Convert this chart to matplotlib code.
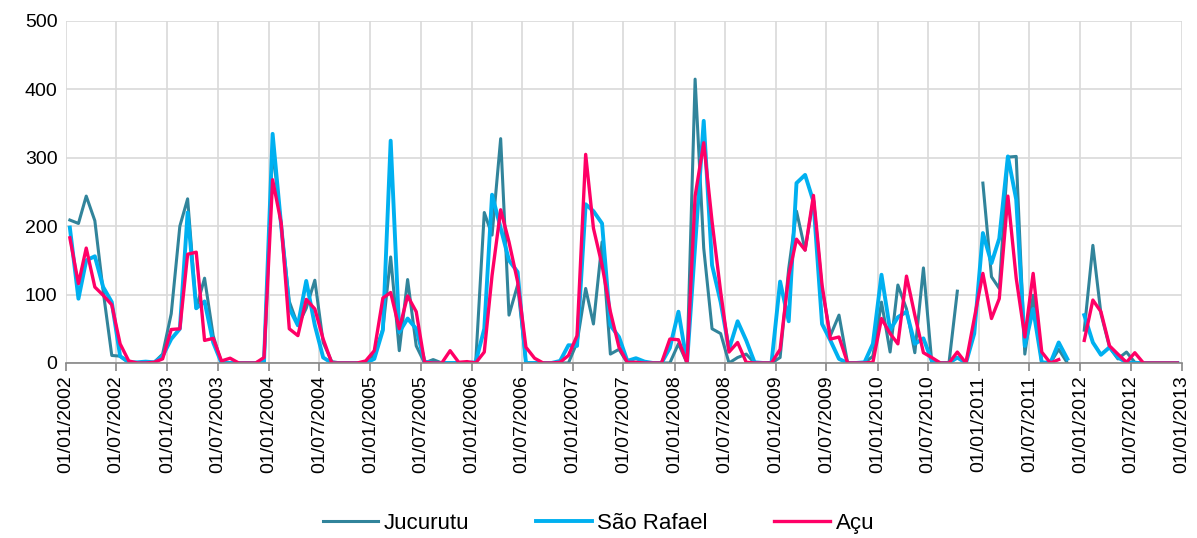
import numpy as np
import pandas as pd
import matplotlib
matplotlib.use("Agg")
import matplotlib.pyplot as plt
import matplotlib.dates as mdates

plt.rcParams['font.family'] = ['Liberation Sans', 'DejaVu Sans']

nan = np.nan

# monthly values, Jan 2002 .. Dec 2012
jucurutu = [209, 204, 244, 208, 105, 11, 10, 1, 0, 0, 1, 13,
            72, 200, 240, 80, 124, 40, 0, 0, 0, 0, 0, 0,
            315, 200, 90, 55, 80, 121, 30, 2, 0, 0, 0, 0,
            12, 50, 155, 18, 122, 25, 0, 5, 0, 0, 0, 0,
            0, 220, 187, 328, 70, 114, 0, 0, 0, 0, 0, 0,
            30, 109, 57, 177, 13, 20, 0, 0, 0, 0, 0, 0,
            28, 0, 415, 168, 50, 43, 0, 8, 13, 0, 0, 0,
            8, 138, 222, 165, 240, 109, 40, 70, 0, 0, 0, 10,
            89, 16, 114, 79, 15, 139, 1, 0, 0, 105, nan, nan,
            263, 126, 109, 301, 302, 13, 99, 0, 0, 20, 0, nan,
            48, 172, 72, 23, 6, 16, 1, 0, 0, 0, 0, 0]

sao_rafael = [198, 94, 150, 156, 111, 89, 10, 1, 1, 2, 1, 10,
              35, 50, 220, 80, 90, 30, 0, 0, 0, 0, 0, 2,
              335, 200, 80, 55, 120, 55, 8, 0, 0, 0, 0, 0,
              6, 48, 325, 45, 65, 50, 2, 0, 0, 0, 0, 0,
              1, 50, 246, 197, 150, 133, 0, 0, 0, 0, 3, 26,
              25, 232, 222, 204, 55, 38, 3, 7, 2, 0, 0, 22,
              75, 0, 170, 354, 143, 89, 20, 61, 33, 1, 0, 0,
              119, 61, 263, 275, 236, 57, 33, 6, 0, 0, 1, 28,
              129, 48, 67, 75, 28, 36, 3, 0, 0, 8, 0, 43,
              190, 146, 182, 302, 239, 25, 79, 1, 0, 30, 6, nan,
              70, 30, 12, 23, 8, 1, 0, 0, 0, 0, 0, 0]

acu = [183, 116, 168, 111, 99, 85, 28, 3, 0, 0, 1, 6,
       49, 50, 159, 162, 33, 36, 3, 7, 0, 0, 0, 8,
       268, 204, 50, 40, 93, 79, 35, 0, 0, 0, 0, 3,
       18, 95, 103, 50, 98, 75, 1, 0, 0, 18, 1, 2,
       0, 16, 128, 224, 177, 119, 23, 7, 0, 0, 1, 11,
       40, 305, 197, 143, 75, 23, 1, 1, 0, 0, 0, 35,
       34, 0, 244, 322, 207, 104, 16, 30, 1, 0, 0, 0,
       20, 128, 181, 165, 245, 114, 35, 38, 0, 0, 0, 1,
       65, 43, 28, 127, 70, 15, 8, 0, 0, 16, 0, 65,
       131, 65, 94, 244, 124, 38, 131, 16, 0, 5, nan, nan,
       33, 92, 75, 25, 13, 1, 15, 0, 0, 0, 0, 0]

dates = pd.date_range("2002-01-01", periods=132, freq="MS") + pd.Timedelta(days=14)

fig = plt.figure(figsize=(11.97, 5.38), dpi=100)
ax = fig.add_axes([0.0551, 0.3253, 0.9324, 0.6357])

ax.plot(dates, jucurutu, color="#31849B", lw=2.2, label="Jucurutu")
ax.plot(dates, sao_rafael, color="#00B0F0", lw=2.8, label="São Rafael")
ax.plot(dates, acu, color="#FF0066", lw=2.4, label="Açu")

ax.set_xlim(pd.Timestamp("2002-01-01"), pd.Timestamp("2013-01-01"))
ax.set_ylim(0, 500)
ax.set_yticks(range(0, 501, 100))

ax.xaxis.set_major_locator(mdates.MonthLocator(bymonth=[1, 7], bymonthday=1))
ax.xaxis.set_major_formatter(mdates.DateFormatter("%d/%m/%Y"))
plt.setp(ax.get_xticklabels(), rotation=90)

ax.grid(True, color="#D9D9D9", lw=1.2)
ax.set_axisbelow(True)
for s in ["top", "right", "left"]:
    ax.spines[s].set_visible(False)
ax.spines["bottom"].set_color("#868686")
ax.spines["bottom"].set_linewidth(1.2)
ax.tick_params(axis="x", colors="#868686", length=6, width=1.2, labelcolor="black",
               labelsize=14, pad=3)
ax.tick_params(axis="y", length=0, labelsize=14, pad=6)

fig.legend(loc="lower center", bbox_to_anchor=(0.5, -0.03), ncol=3, frameon=False,
           fontsize=16, handlelength=2.5, columnspacing=3.0, handletextpad=0.25)

fig.savefig("out.png", dpi=100)
